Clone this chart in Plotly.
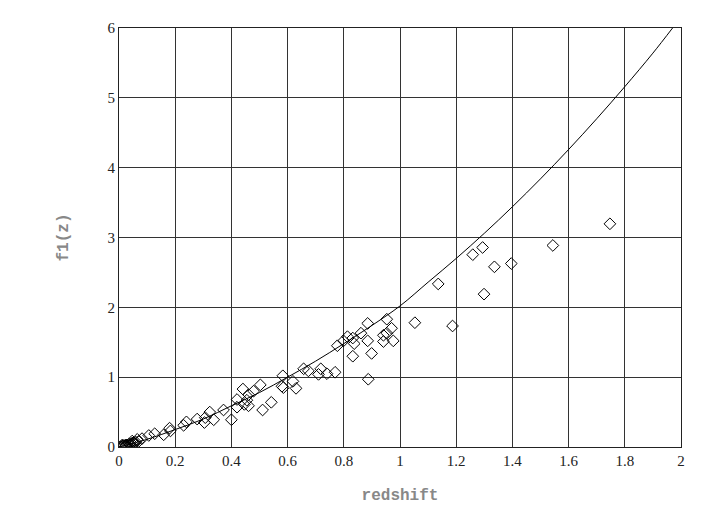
import plotly.graph_objects as go

# Model curve f1(z)
curve_z = [0, 0.1, 0.2, 0.3, 0.4, 0.5, 0.6, 0.7, 0.8, 0.9, 1.0, 1.1, 1.2, 1.3, 1.4, 1.5, 1.6, 1.7, 1.8, 1.9, 1.97]
curve_f = [0, 0.11, 0.25, 0.40, 0.59, 0.78, 1.0, 1.23, 1.48, 1.74, 2.02, 2.36, 2.70, 3.06, 3.44, 3.84, 4.26, 4.70, 5.16, 5.64, 6.0]

# Observed points (redshift, f1)
obs_z = [0.005, 0.01, 0.012, 0.015, 0.02, 0.025, 0.025, 0.03, 0.035, 0.038, 0.04, 0.045, 0.05, 0.055, 0.06, 0.07,
         0.047, 0.065, 0.082, 0.106, 0.127, 0.159, 0.183, 0.18, 0.23, 0.24, 0.278, 0.304, 0.307, 0.323, 0.337,
         0.372, 0.40, 0.42, 0.42, 0.441, 0.446, 0.455, 0.461, 0.461, 0.479, 0.503, 0.511, 0.542,
         0.58, 0.583, 0.585, 0.619, 0.63, 0.657, 0.674, 0.71, 0.718, 0.74, 0.769, 0.777, 0.799, 0.813, 0.832,
         0.837, 0.832, 0.861, 0.885, 0.885, 0.887, 0.899, 0.941, 0.941, 0.953, 0.953, 0.970, 0.976,
         1.053, 1.136, 1.187, 1.259, 1.294, 1.299, 1.336, 1.396, 1.544, 1.747]
obs_f = [0.005, 0.01, 0.03, 0.02, 0.02, 0.03, 0.015, 0.03, 0.04, 0.025, 0.04, 0.05, 0.06, 0.06, 0.07, 0.08,
         0.085, 0.11, 0.12, 0.165, 0.19, 0.175, 0.23, 0.27, 0.31, 0.36, 0.40, 0.35, 0.42, 0.50, 0.39,
         0.53, 0.39, 0.57, 0.68, 0.83, 0.61, 0.67, 0.59, 0.75, 0.80, 0.89, 0.53, 0.64,
         0.87, 1.02, 0.85, 0.94, 0.84, 1.12, 1.09, 1.04, 1.12, 1.05, 1.07, 1.45, 1.52, 1.58, 1.56,
         1.48, 1.30, 1.63, 1.77, 1.52, 0.97, 1.34, 1.60, 1.51, 1.83, 1.63, 1.70, 1.52,
         1.78, 2.335, 1.733, 2.754, 2.857, 2.189, 2.58, 2.627, 2.886, 3.196]

x_ticks = [0, 0.2, 0.4, 0.6, 0.8, 1, 1.2, 1.4, 1.6, 1.8, 2]
x_labels = ["0", "0.2", "0.4", "0.6", "0.8", "1", "1.2", "1.4", "1.6", "1.8", "2"]
y_ticks = [0, 1, 2, 3, 4, 5, 6]
y_labels = ["0", "1", "2", "3", "4", "5", "6"]

fig = go.Figure()
fig.add_trace(go.Scatter(x=curve_z, y=curve_f, mode="lines", line=dict(color="black", width=1, shape="spline"),
                         showlegend=False, hoverinfo="skip"))
fig.add_trace(go.Scatter(x=obs_z, y=obs_f, mode="markers",
                         marker=dict(symbol="diamond-open", size=9, color="black", line=dict(width=1, color="black")),
                         showlegend=False))

tickfont = dict(family="Liberation Serif", size=15, color="#222")
titlefont = dict(family="Liberation Mono", size=16, color="#888888", weight="bold")

fig.update_layout(
    width=707, height=518,
    margin=dict(l=110.5, r=33.5, t=14.3, b=79.3),
    plot_bgcolor="white", paper_bgcolor="white",
    xaxis=dict(range=[0, 2], tickvals=x_ticks, ticktext=x_labels, showgrid=True, gridcolor="#333333", gridwidth=1,
               zeroline=False, showline=True, linecolor="#222", linewidth=1, mirror=True, ticks="",
               tickfont=tickfont, title=dict(text="redshift", font=titlefont, standoff=20)),
    yaxis=dict(range=[0, 6], tickvals=y_ticks, ticktext=y_labels, showgrid=True, gridcolor="#333333", gridwidth=1,
               zeroline=False, showline=True, linecolor="#222", linewidth=1, mirror=True, ticks="",
               tickfont=tickfont, title=dict(text="f1(z)", font=titlefont, standoff=34)),
)

fig.write_html("out.html")
